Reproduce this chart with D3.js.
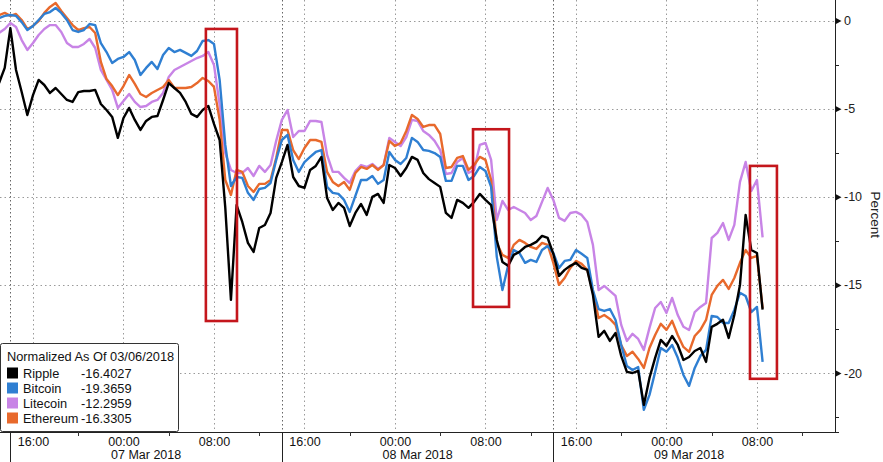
<!DOCTYPE html>
<html><head><meta charset="utf-8">
<script src="https://cdn.jsdelivr.net/npm/d3@7/dist/d3.min.js"></script>
<style>
html,body{margin:0;padding:0;background:#fff;}
svg{display:block;font-family:"Liberation Sans",Arial,sans-serif;}
</style></head>
<body><svg id="c" width="883" height="462"></svg>
<script>
// ---- data ----
const startTime = "2018-03-06T13:00:00Z";
const stepMinutes = 30;
const seriesNames = ["Ripple","Bitcoin","Litecoin","Ethereum"];
const lastValues = ["-16.4027","-19.3659","-12.2959","-16.3305"];
const legendTitle = "Normalized As Of 03/06/2018";
const ripple = [-3.55,-2.69,-0.43,-2.81,-4.06,-5.36,-4.23,-3.37,-3.66,-4.11,-3.83,-4.17,-4.51,-4.62,-4.06,-4.00,-4.00,-3.94,-4.74,-5.08,-5.47,-6.66,-5.53,-4.96,-5.64,-6.21,-5.70,-5.47,-5.42,-4.51,-3.55,-3.83,-4.11,-4.62,-5.30,-5.47,-5.08,-4.85,-5.87,-6.78,-10.63,-15.85,-10.47,-11.43,-12.62,-13.13,-11.77,-11.60,-10.92,-8.93,-8.03,-7.06,-8.88,-9.39,-9.50,-8.48,-8.25,-7.74,-10.07,-10.75,-10.35,-10.63,-11.66,-10.92,-10.41,-11.03,-10.01,-9.84,-10.35,-8.20,-8.37,-8.82,-8.37,-7.74,-7.91,-8.65,-9.00,-9.22,-9.44,-10.92,-11.20,-10.18,-10.35,-10.63,-10.29,-9.84,-10.18,-10.47,-12.45,-13.70,-13.92,-13.30,-13.13,-12.85,-12.73,-12.56,-12.22,-12.34,-13.24,-14.49,-14.15,-13.92,-13.75,-14.04,-14.15,-15.57,-17.95,-17.61,-18.18,-17.73,-19.03,-19.94,-20.00,-19.88,-21.81,-20.28,-19.14,-18.12,-18.46,-17.90,-18.41,-19.26,-19.09,-18.75,-18.58,-19.37,-17.38,-17.21,-16.98,-18.01,-16.71,-15.00,-11.03,-13.02,-13.19,-16.40];
const bitcoin = [0.14,0.26,0.31,0.26,-0.09,-0.54,-0.31,0.03,0.37,0.48,0.71,0.43,0.03,-0.54,-0.65,-0.54,-0.20,-0.26,-1.28,-1.79,-2.41,-2.18,-2.07,-1.79,-2.24,-3.09,-2.69,-2.35,-2.75,-1.96,-1.56,-1.79,-1.67,-1.84,-2.01,-1.73,-1.16,-1.11,-1.33,-3.37,-7.06,-9.39,-8.88,-8.93,-9.78,-10.18,-9.56,-9.50,-9.22,-7.91,-6.78,-6.49,-7.91,-8.59,-8.03,-7.74,-7.46,-7.35,-9.44,-9.78,-9.84,-10.18,-10.86,-9.95,-9.05,-9.05,-8.82,-9.27,-9.05,-7.46,-7.91,-8.14,-7.80,-6.66,-6.89,-7.35,-7.40,-7.52,-7.74,-9.10,-9.10,-8.25,-8.25,-9.05,-8.82,-8.31,-8.54,-9.44,-13.41,-15.29,-13.92,-13.02,-13.19,-13.75,-13.58,-13.70,-13.02,-12.79,-13.19,-14.04,-13.64,-13.58,-13.02,-13.24,-13.47,-15.29,-16.37,-16.48,-16.37,-16.99,-18.41,-19.60,-19.83,-19.66,-22.09,-21.24,-19.94,-18.58,-18.80,-18.41,-19.14,-20.11,-20.73,-19.71,-19.03,-18.69,-16.76,-16.82,-17.16,-17.16,-16.42,-15.45,-15.63,-16.54,-16.25,-19.37];
const litecoin = [-0.71,-0.48,-0.14,-0.37,-1.11,-1.67,-1.28,-0.82,-0.48,-0.26,-0.26,-0.65,-1.28,-1.50,-1.50,-1.33,-1.05,-1.56,-2.81,-3.37,-3.94,-4.96,-4.57,-4.17,-4.62,-4.91,-4.85,-4.62,-4.51,-4.11,-3.20,-2.81,-2.64,-2.47,-2.30,-2.13,-2.01,-1.79,-2.52,-4.79,-7.52,-8.48,-8.65,-8.65,-8.37,-8.82,-8.25,-8.59,-8.20,-6.83,-5.64,-5.08,-6.61,-6.27,-6.27,-5.70,-5.70,-5.76,-7.63,-8.59,-8.59,-8.93,-9.22,-8.54,-8.20,-8.31,-8.14,-8.42,-8.20,-6.66,-6.89,-7.12,-6.61,-5.64,-5.70,-6.27,-6.49,-6.83,-7.35,-8.71,-8.65,-8.03,-7.80,-8.65,-8.48,-7.06,-6.95,-7.91,-11.32,-10.24,-10.75,-10.58,-10.75,-10.92,-11.32,-11.09,-10.29,-9.50,-10.18,-11.20,-11.37,-10.92,-10.86,-11.03,-11.43,-12.73,-15.29,-15.06,-15.34,-15.63,-17.27,-18.18,-17.78,-18.07,-18.69,-17.44,-16.31,-15.97,-16.59,-15.74,-16.71,-17.38,-17.56,-16.54,-16.25,-16.03,-12.34,-12.05,-11.49,-12.45,-11.60,-9.16,-8.03,-9.67,-9.05,-12.30];
const ethereum = [0.31,0.43,0.26,0.37,0.03,-0.48,-0.31,-0.03,0.43,0.77,0.99,0.54,0.14,-0.26,-0.54,-0.43,-0.37,-0.71,-2.35,-3.32,-3.72,-4.23,-3.72,-3.09,-3.60,-4.17,-4.34,-4.11,-3.94,-3.77,-3.37,-3.83,-3.83,-3.83,-3.77,-3.55,-3.26,-3.43,-3.77,-5.64,-9.05,-9.90,-8.48,-8.59,-9.39,-9.73,-9.27,-9.27,-9.05,-7.80,-6.21,-6.21,-7.35,-7.86,-7.23,-6.78,-6.78,-6.89,-8.59,-9.16,-9.39,-9.16,-9.61,-8.65,-8.31,-8.42,-8.20,-8.48,-8.20,-6.83,-7.12,-6.95,-6.27,-5.36,-5.59,-6.04,-5.93,-5.93,-6.44,-8.37,-8.31,-7.80,-7.69,-8.48,-8.20,-7.74,-7.91,-9.05,-12.62,-13.30,-13.47,-12.73,-12.45,-12.62,-12.85,-12.96,-12.62,-12.73,-13.75,-15.00,-14.61,-14.04,-13.64,-13.81,-14.15,-15.40,-16.88,-16.71,-16.93,-17.27,-18.41,-19.03,-18.80,-19.20,-19.71,-18.58,-17.84,-17.21,-17.55,-17.04,-17.84,-18.52,-18.80,-17.90,-17.55,-16.99,-15.57,-15.06,-14.72,-15.23,-14.61,-13.75,-13.02,-13.47,-13.36,-16.33];
const seriesColors = ["#000000","#2f7fd2","#c884e6","#e8692c"];
const yTicks = [0,-5,-10,-15,-20];
const yMinorTicks = [-2.5,-7.5,-12.5,-17.5,-22.5];
const xLabelTimes = ["2018-03-06T16:00Z","2018-03-07T00:00Z","2018-03-07T08:00Z","2018-03-07T16:00Z","2018-03-08T00:00Z","2018-03-08T08:00Z","2018-03-08T16:00Z","2018-03-09T00:00Z","2018-03-09T08:00Z"];
const xMinorTimes = ["2018-03-06T20:00Z","2018-03-07T04:00Z","2018-03-07T12:00Z","2018-03-07T20:00Z","2018-03-08T04:00Z","2018-03-08T12:00Z","2018-03-08T20:00Z","2018-03-09T04:00Z","2018-03-09T12:00Z"];
const daySeparators = ["2018-03-06T14:00Z","2018-03-07T14:00Z","2018-03-08T14:00Z","2018-03-09T14:00Z"];
const dayLabels = ["07 Mar 2018","08 Mar 2018","09 Mar 2018"];
const highlightBoxes = [
  {t0:"2018-03-07T07:17Z", t1:"2018-03-07T10:02Z", v0:-0.48, v1:-17.05},
  {t0:"2018-03-08T06:54Z", t1:"2018-03-08T10:05Z", v0:-6.17, v1:-16.25},
  {t0:"2018-03-09T07:23Z", t1:"2018-03-09T09:46Z", v0:-8.25, v1:-20.33}
];

// ---- build ----
const svg = d3.select("#c");
const W = 883, H = 462;
const plotRight = 835, plotBottom = 432;
const t0 = new Date(startTime).getTime();
const times = ripple.map((_, i) => new Date(t0 + i * stepMinutes * 60000));
const seriesVals = [ripple, bitcoin, litecoin, ethereum];

const x = d3.scaleUtc()
  .domain([new Date("2018-03-06T13:05:00Z"), new Date("2018-03-09T14:54:00Z")])
  .range([0, plotRight]);
const y = d3.scaleLinear().domain([-20, 0]).range([373, 20.5]);

// grid
const grid = svg.append("g");
grid.selectAll("line.h").data(yTicks).join("line")
  .attr("x1", 0).attr("x2", plotRight)
  .attr("y1", d => Math.round(y(d)) + 0.5).attr("y2", d => Math.round(y(d)) + 0.5)
  .attr("stroke", "#9a9a9a").attr("stroke-width", 1).attr("stroke-dasharray", "1.5,3");
grid.selectAll("line.v").data(xLabelTimes).join("line")
  .attr("x1", d => Math.round(x(new Date(d))) + 0.5).attr("x2", d => Math.round(x(new Date(d))) + 0.5)
  .attr("y1", 0).attr("y2", plotBottom)
  .attr("stroke", "#9a9a9a").attr("stroke-width", 1).attr("stroke-dasharray", "1.5,3");
grid.selectAll("line.s").data(daySeparators.slice(0,3)).join("line")
  .attr("x1", d => Math.round(x(new Date(d))) + 0.5).attr("x2", d => Math.round(x(new Date(d))) + 0.5)
  .attr("y1", 0).attr("y2", plotBottom)
  .attr("stroke", "#666").attr("stroke-width", 1).attr("stroke-dasharray", "1.5,2.5");

// lines
const clipId = "plotclip";
svg.append("clipPath").attr("id", clipId).append("rect")
  .attr("x", 0).attr("y", 0).attr("width", plotRight).attr("height", plotBottom);
const line = d3.line().x((d, i) => x(times[i])).y(d => y(d)).curve(d3.curveLinear);
const order = [2, 3, 1, 0];
svg.append("g").attr("clip-path", `url(#${clipId})`)
  .selectAll("path").data(order).join("path")
  .attr("d", k => line(seriesVals[k]))
  .attr("fill", "none").attr("stroke", k => seriesColors[k])
  .attr("stroke-width", 2.4).attr("stroke-linejoin", "round");

// highlight boxes
svg.append("g").selectAll("rect").data(highlightBoxes).join("rect")
  .attr("x", d => x(new Date(d.t0))).attr("y", d => y(d.v0))
  .attr("width", d => x(new Date(d.t1)) - x(new Date(d.t0)))
  .attr("height", d => y(d.v1) - y(d.v0))
  .attr("fill", "none").attr("stroke", "#c4161c").attr("stroke-width", 2.6);

// x axis
svg.append("line").attr("x1", 0).attr("x2", plotRight + 4)
  .attr("y1", plotBottom + 0.5).attr("y2", plotBottom + 0.5)
  .attr("stroke", "#222").attr("stroke-width", 1);
const xAxis = d3.axisBottom(x).tickValues(xLabelTimes.map(d => new Date(d)))
  .tickFormat(d3.utcFormat("%H:%M")).tickSize(0).tickPadding(0);
const gx = svg.append("g").attr("transform", `translate(0,${plotBottom})`).call(xAxis);
gx.select(".domain").remove();
gx.selectAll("text").attr("dy", null).attr("y", 14).attr("font-size", 12.5)
  .attr("fill", "#111").attr("font-family", "'Liberation Sans',Arial,sans-serif");
svg.append("g").selectAll("line").data(xMinorTimes).join("line")
  .attr("x1", d => Math.round(x(new Date(d))) + 0.5).attr("x2", d => Math.round(x(new Date(d))) + 0.5)
  .attr("y1", plotBottom).attr("y2", plotBottom + 4).attr("stroke", "#333");
svg.append("g").selectAll("line").data(daySeparators.slice(0,3)).join("line")
  .attr("x1", d => Math.round(x(new Date(d))) + 0.5).attr("x2", d => Math.round(x(new Date(d))) + 0.5)
  .attr("y1", plotBottom).attr("y2", H).attr("stroke", "#222");
svg.append("g").selectAll("text").data(dayLabels).join("text")
  .attr("x", (d, i) => (x(new Date(daySeparators[i])) + x(new Date(daySeparators[i + 1]))) / 2)
  .attr("y", 459).attr("text-anchor", "middle").attr("font-size", 12.5).attr("fill", "#111")
  .text(d => d);

// y axis
svg.append("line").attr("x1", plotRight + 0.5).attr("x2", plotRight + 0.5)
  .attr("y1", 0).attr("y2", plotBottom).attr("stroke", "#222");
const yAxis = d3.axisRight(y).tickValues(yTicks).tickFormat(d => String(d)).tickSize(0).tickPadding(9);
const gy = svg.append("g").attr("transform", `translate(${plotRight},0)`).call(yAxis);
gy.select(".domain").remove();
gy.selectAll("text").attr("font-size", 12.5).attr("fill", "#222")
  .attr("font-family", "'Liberation Sans',Arial,sans-serif");
gy.selectAll(".tick").append("path").attr("d", "M0.5,-3.2L6.5,0L0.5,3.2Z").attr("fill", "#111");
svg.append("g").selectAll("line").data(yMinorTicks).join("line")
  .attr("x1", plotRight).attr("x2", plotRight + 4)
  .attr("y1", d => Math.round(y(d)) + 0.5).attr("y2", d => Math.round(y(d)) + 0.5)
  .attr("stroke", "#222");
svg.append("text").attr("transform", `translate(871,${y(-10) + 18}) rotate(90)`)
  .attr("text-anchor", "middle").attr("font-size", 13.5).attr("fill", "#222").text("Percent");

// legend
const lg = svg.append("g");
lg.append("rect").attr("x", 0.5).attr("y", 343.5).attr("width", 178).attr("height", 88)
  .attr("rx", 2).attr("fill", "#fff").attr("stroke", "#333").attr("stroke-width", 1);
lg.append("text").attr("x", 7).attr("y", 361).attr("font-size", 12.8).attr("fill", "#111").text(legendTitle);
const items = lg.selectAll("g.item").data(seriesNames).join("g")
  .attr("transform", (d, i) => `translate(0,${373 + i * 15})`);
items.append("rect").attr("x", 7).attr("y", -5.5).attr("width", 11).attr("height", 11)
  .attr("fill", (d, i) => seriesColors[i]);
items.append("text").attr("x", 23).attr("y", 4.5).attr("font-size", 12.8).attr("fill", "#111").text(d => d);
items.append("text").attr("x", 81).attr("y", 4.5).attr("font-size", 12.8).attr("fill", "#111")
  .text((d, i) => lastValues[i]);
</script></body></html>
